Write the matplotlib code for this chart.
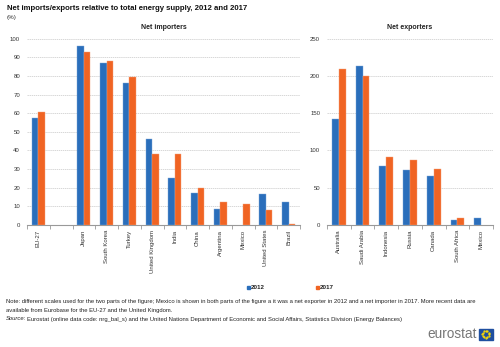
import numpy as np
import matplotlib
matplotlib.use("Agg")
import matplotlib.pyplot as plt
from matplotlib.patches import Rectangle

plt.rcParams['font.family'] = ['Liberation Sans', 'DejaVu Sans']

# net importers (left panel); blank slot separates EU-27 from the others
imp_labels = ['EU-27', '', 'Japan', 'South Korea', 'Turkey', 'United Kingdom', 'India',
              'China', 'Argentina', 'Mexico', 'United States', 'Brazil']
imp_2012 = [57.6, np.nan, 96.1, 86.8, 76.1, 46.3, 25.4, 17.0, 8.6, np.nan, 16.6, 12.2]
imp_2017 = [60.6, np.nan, 92.7, 88.2, 79.3, 38.1, 38.1, 19.9, 12.3, 11.1, 7.9, 0.4]

# net exporters (right panel)
exp_labels = ['Australia', 'Saudi Arabia', 'Indonesia', 'Russia', 'Canada', 'South Africa', 'Mexico']
exp_2012 = [141.8, 213.4, 79.2, 73.8, 65.8, 7.2, 9.8]
exp_2017 = [209.0, 200.4, 91.3, 87.2, 74.8, 9.0, np.nan]

years = ['2012', '2017']
BLUE = '#2a6ebb'
ORANGE = '#f06423'
W, H = 500, 347


def px_axes(fig, x0, x1, ytop, ybot):
    return fig.add_axes([x0 / W, (H - ybot) / H, (x1 - x0) / W, (ybot - ytop) / H])


def draw_panel(ax, labels, v12, v17, ymax, step, title):
    x = np.arange(len(labels))
    bw = 0.29
    ax.bar(x - bw / 2, v12, bw, color=BLUE, edgecolor='#7fa8d8', linewidth=0.3, zorder=3)
    ax.bar(x + bw / 2, v17, bw, color=ORANGE, edgecolor='#f5a27a', linewidth=0.3, zorder=3)
    ax.set_xlim(-0.5, len(labels) - 0.5)
    ax.set_ylim(0, ymax)
    ax.set_yticks(np.arange(0, ymax + 1, step))
    ax.yaxis.grid(True, color='#c8c8c8', linewidth=0.5, linestyle=(0, (2, 1)), zorder=0)
    for s in ['top', 'right', 'left']:
        ax.spines[s].set_visible(False)
    ax.spines['bottom'].set_color('#999999')
    ax.spines['bottom'].set_linewidth(0.8)
    ax.tick_params(axis='y', length=0, labelsize=4.3, labelcolor='#333333', pad=5)
    ax.set_xticks(x)
    ax.set_xticklabels(labels, rotation=90, fontsize=4.3, color='#333333')
    ax.tick_params(axis='x', length=0, pad=3.5)
    # category separators below the axis line
    ax.set_xticks(np.arange(-0.5, len(labels)), minor=True)
    ax.tick_params(axis='x', which='minor', length=3, width=0.6, color='#999999')
    ax.set_title(title, fontsize=5, fontweight='bold', color='#222222', pad=7)


fig = plt.figure(figsize=(W / 100, H / 100), dpi=100)

ax1 = px_axes(fig, 27, 300, 38.7, 225)
draw_panel(ax1, imp_labels, imp_2012, imp_2017, 100, 10, 'Net importers')

ax2 = px_axes(fig, 327, 493, 38.7, 225)
draw_panel(ax2, exp_labels, exp_2012, exp_2017, 250, 50, 'Net exporters')

fig.text(7 / W, 1 - 9 / H, 'Net imports/exports relative to total energy supply, 2012 and 2017',
         fontsize=5.6, fontweight='bold', color='#111111', va='center')
fig.text(7 / W, 1 - 18 / H, '(%)', fontsize=4.5, color='#333333', va='center')

# legend
for xm, lab, col in [(247, years[0], BLUE), (316, years[1], ORANGE)]:
    fig.patches.append(Rectangle((xm / W, 1 - 289 / H), 3 / W, 3 / H, color=col,
                                 transform=fig.transFigure, figure=fig))
    fig.text((xm + 4) / W, 1 - 287.5 / H, lab, fontsize=4.5, fontweight='bold',
             color='#222222', va='center')

fs = 4.27
note = ('Note: different scales used for the two parts of the figure; Mexico is shown in both parts of the '
        'figure a it was a net exporter in 2012 and a net importer in 2017. More recent data are')
fig.text(6 / W, 1 - 302 / H, note, fontsize=fs, color='#222222', va='center')
fig.text(6 / W, 1 - 310.5 / H, 'available from Eurobase for the EU-27 and the United Kingdom.',
         fontsize=fs, color='#222222', va='center')
fig.text(6 / W, 1 - 319 / H, 'Source:', fontsize=fs, style='italic', color='#222222', va='center')
fig.text(27 / W, 1 - 319 / H,
         'Eurostat (online data code: nrg_bal_s) and the United Nations Department of Economic and '
         'Social Affairs, Statistics Division (Energy Balances)',
         fontsize=fs, color='#222222', va='center')

# logo
fig.text(477 / W, 1 - 334 / H, 'eurostat', fontsize=9.8, color='#777777', ha='right', va='center')
fig.patches.append(Rectangle((479 / W, 1 - 339.5 / H), 13.5 / W, 10.5 / H, color='#1f4fa0',
                             transform=fig.transFigure, figure=fig))
ang = np.linspace(0, 2 * np.pi, 12, endpoint=False)
fig.lines.append(plt.Line2D((485.7 + 3.3 * np.cos(ang)) / W, (1 - 334.2 / H) + 3.3 * np.sin(ang) / H,
                            linestyle='none', marker='o', markersize=0.6, color='#ffdd00',
                            transform=fig.transFigure, figure=fig))

fig.savefig('out.png', dpi=100)
